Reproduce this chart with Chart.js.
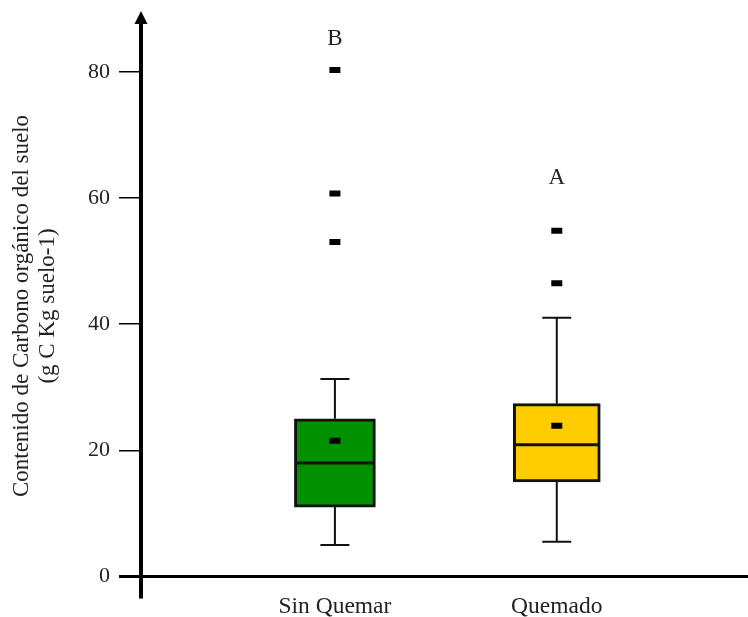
<!DOCTYPE html>
<html><head><meta charset="utf-8">
<script src="https://cdn.jsdelivr.net/npm/chart.js@4/dist/chart.umd.min.js"></script>
<style>html,body{margin:0;padding:0;background:#fff}#wrap{width:748px;height:617px}</style>
</head><body><div id="wrap"><canvas id="c" width="748" height="617"></canvas></div>
<script>
const categories = ['Sin Quemar', 'Quemado'];
const whiskerLow = [5.0, 5.5];
const q1 = [11.0, 15.0];
const median = [18.0, 20.9];
const q3 = [25.0, 27.4];
const whiskerHigh = [31.3, 41.0];
const means = [21.5, 23.9];
const outliers = [[53.0, 60.7, 80.3], [46.5, 54.8]];
const letters = ['B', 'A'];
const letterValues = [85.2, 63.1];
const yTicks = [0, 20, 40, 60, 80];
const yTitle = ['Contenido de Carbono orgánico del suelo', '(g C Kg suelo-1)'];

const boxColors = ['#009000', '#ffcc00'];
const boxWidths = [81, 87];
const FONT = "'Liberation Serif', 'Times New Roman', serif";

const pointData = [];
categories.forEach((c, i) => {
  pointData.push({x: i + 1, y: means[i]});
  outliers[i].forEach(v => pointData.push({x: i + 1, y: v}));
});

const boxDatasets = categories.map((c, i) => ({
  type: 'bar',
  label: c,
  data: [{x: i + 1, y: [q1[i], q3[i]]}],
  backgroundColor: boxColors[i],
  borderColor: '#111',
  borderWidth: 3,
  borderSkipped: false,
  barThickness: boxWidths[i],
  grouped: false
}));

const boxPlugin = {
  id: 'boxExtras',
  beforeDatasetsDraw(chart) {
    const ctx = chart.ctx, xs = chart.scales.x, ys = chart.scales.y;
    ctx.save();
    ctx.strokeStyle = '#111';
    ctx.lineWidth = 2;
    categories.forEach((c, i) => {
      const cx = xs.getPixelForValue(i + 1);
      ctx.beginPath();
      ctx.moveTo(cx, ys.getPixelForValue(whiskerLow[i]));
      ctx.lineTo(cx, ys.getPixelForValue(q1[i]));
      ctx.moveTo(cx, ys.getPixelForValue(q3[i]));
      ctx.lineTo(cx, ys.getPixelForValue(whiskerHigh[i]));
      [whiskerLow[i], whiskerHigh[i]].forEach(v => {
        const py = ys.getPixelForValue(v);
        ctx.moveTo(cx - 14.5, py);
        ctx.lineTo(cx + 14.5, py);
      });
      ctx.stroke();
    });
    ctx.restore();
  },
  afterDatasetDraw(chart, args) {
    const i = args.index - 1;
    if (i < 0) return;
    const ctx = chart.ctx, ys = chart.scales.y;
    const meta = chart.getDatasetMeta(args.index);
    ctx.save();
    ctx.strokeStyle = '#111';
    ctx.lineWidth = 3;
    meta.data.forEach(el => {
      const p = el.getProps(['x', 'width'], true);
      const py = ys.getPixelForValue(median[i]);
      ctx.beginPath();
      ctx.moveTo(p.x - p.width / 2 + 2, py);
      ctx.lineTo(p.x + p.width / 2 - 2, py);
      ctx.stroke();
    });
    ctx.restore();
  },
  afterDraw(chart) {
    const ctx = chart.ctx, xs = chart.scales.x, ys = chart.scales.y, ca = chart.chartArea;
    ctx.save();
    const y0 = ys.getPixelForValue(0);
    ctx.strokeStyle = '#000';
    ctx.lineWidth = 3;
    ctx.beginPath();
    ctx.moveTo(119, y0);
    ctx.lineTo(chart.width, y0);
    ctx.stroke();
    ctx.lineWidth = 4;
    ctx.beginPath();
    ctx.moveTo(ca.left, y0 + 22);
    ctx.lineTo(ca.left, 22);
    ctx.stroke();
    ctx.fillStyle = '#000';
    ctx.beginPath();
    ctx.moveTo(ca.left, 11);
    ctx.lineTo(ca.left - 6.5, 24);
    ctx.lineTo(ca.left + 6.5, 24);
    ctx.closePath();
    ctx.fill();
    ctx.fillStyle = '#222';
    ctx.font = '23px ' + FONT;
    ctx.textAlign = 'center';
    ctx.textBaseline = 'middle';
    letters.forEach((l, i) => {
      ctx.fillText(l, xs.getPixelForValue(i + 1), ys.getPixelForValue(letterValues[i]));
    });
    ctx.translate(0, 306);
    ctx.rotate(-Math.PI / 2);
    ctx.fillText(yTitle[0], 0, 22);
    ctx.fillText(yTitle[1], 0, 48);
    ctx.restore();
  }
};

new Chart(document.getElementById('c'), {
  type: 'bar',
  data: {
    datasets: [
      {
        type: 'scatter',
        data: pointData,
        pointStyle: 'line',
        pointRadius: 5.5,
        pointBorderWidth: 6,
        pointBorderColor: '#000',
        pointBackgroundColor: '#000',
        showLine: false
      }
    ].concat(boxDatasets)
  },
  plugins: [boxPlugin],
  options: {
    responsive: false,
    animation: false,
    devicePixelRatio: 1,
    events: [],
    layout: {padding: {top: 15, left: 0, right: 0, bottom: 0}},
    plugins: {legend: {display: false}, tooltip: {enabled: false}},
    scales: {
      x: {
        type: 'linear',
        offset: false,
        min: 0.126,
        max: 2.81,
        grid: {display: false, offset: false},
        border: {display: false},
        afterBuildTicks: s => { s.ticks = categories.map((c, i) => ({value: i + 1})); },
        afterFit: s => { s.height = 40.5; s.paddingLeft = 0; s.paddingRight = 0; },
        ticks: {
          autoSkip: false,
          maxRotation: 0,
          padding: 8,
          color: '#222',
          font: {family: FONT, size: 23.5},
          callback: v => categories[Math.round(v) - 1]
        }
      },
      y: {
        type: 'linear',
        min: 0,
        max: 89,
        border: {display: false},
        grid: {display: true, drawOnChartArea: false, drawTicks: true, tickLength: 22, color: '#000', lineWidth: 1.5},
        afterBuildTicks: s => { s.ticks = yTicks.map(v => ({value: v})); },
        afterFit: s => { s.width = 141; s.paddingTop = 0; s.paddingBottom = 0; },
        ticks: {
          padding: 9,
          color: '#222',
          font: {family: FONT, size: 22},
          callback: v => String(v)
        }
      }
    }
  }
});
</script>
</body></html>
